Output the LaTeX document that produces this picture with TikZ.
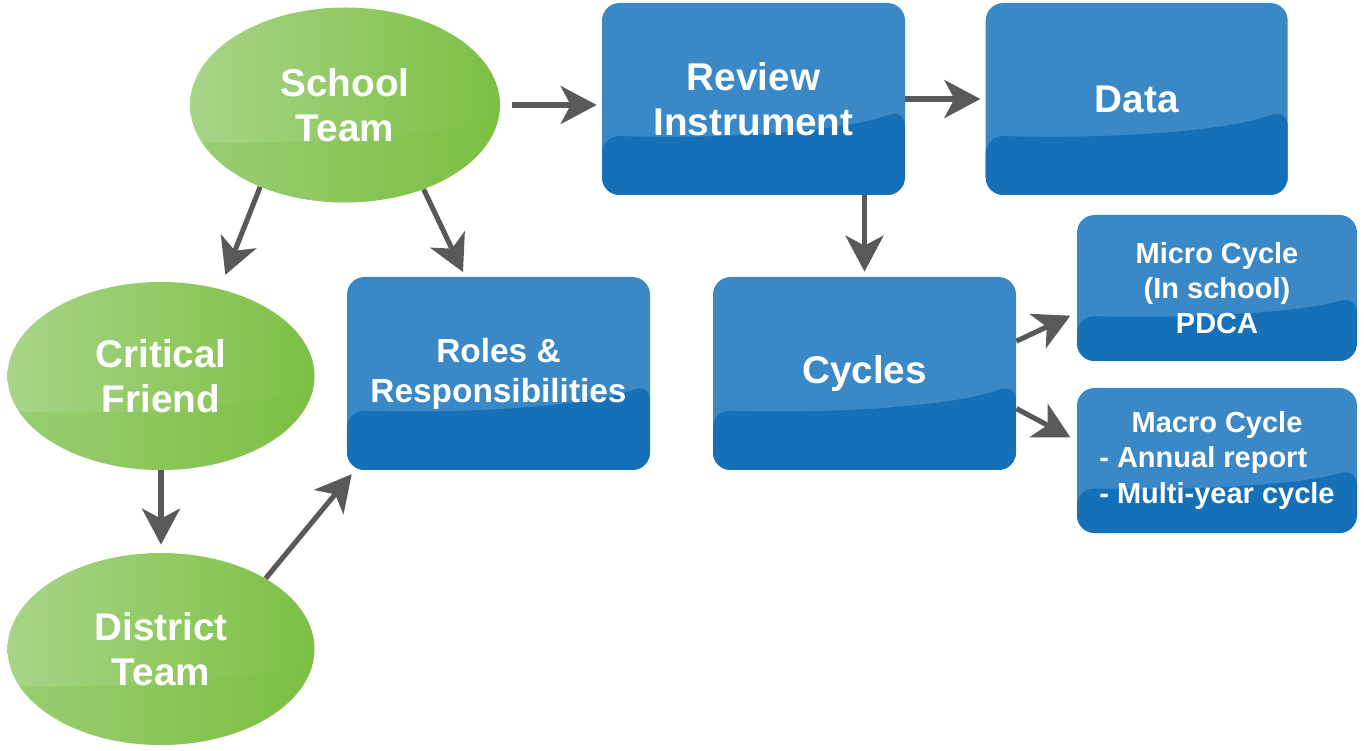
\documentclass[tikz,border=0pt]{standalone}
\usepackage{fontspec}
\setmainfont{Liberation Sans}
\usetikzlibrary{arrows.meta,positioning,calc,shapes.geometric}

\definecolor{boxlight}{HTML}{3A88C6}
\definecolor{boxdark}{HTML}{1670B8}
\definecolor{greenleft}{HTML}{A8D488}
\definecolor{greenright}{HTML}{7CC042}
\definecolor{arrgray}{HTML}{58595B}
\newlength{\macrowd}

\tikzset{
  lowerband/.style={path picture={
    \fill[#1] let \p1=(path picture bounding box.south west),
                  \p2=(path picture bounding box.north east) in
      (\x1,\y1) -- (\x1,{\y1+0.31*(\y2-\y1)})
      .. controls ({\x1+0.40*(\x2-\x1)},{\y1+0.29*(\y2-\y1)})
             and ({\x1+0.80*(\x2-\x1)},{\y1+0.33*(\y2-\y1)})
      .. (\x2,{\y1+0.45*(\y2-\y1)}) -- (\x2,\y1) -- cycle;}},
  bluebox/.style={rectangle, rounded corners=10pt, fill=boxlight,
                  lowerband=boxdark, text=white, align=center,
                  minimum width=6.06cm, minimum height=3.86cm},
  smallbox/.style={bluebox, minimum width=5.6cm, minimum height=2.92cm,
                   font=\bfseries\fontsize{16.5}{20}\selectfont},
  greenell/.style={ellipse, left color=greenleft, right color=greenright,
                   lowerband={greenright, fill opacity=0.3}, text=white,
                   align=center, font=\bfseries\fontsize{22}{25.5}\selectfont},
  big/.style={font=\bfseries\fontsize{22}{25.5}\selectfont},
  arr/.style={draw=arrgray, line width=2.9pt,
              -{Stealth[length=0.72cm, width=0.76cm, inset=0.2cm]}}
}

\begin{document}
\begin{tikzpicture}
\useasboundingbox (0,0) rectangle (27.28,-15.02);

% ellipses
\node[greenell, minimum width=6.2cm, minimum height=3.9cm] (school) at (6.9,-2.1) {School\\Team};
\node[greenell, minimum width=6.14cm, minimum height=3.76cm] (critical) at (3.22,-7.52) {Critical\\Friend};
\node[greenell, minimum width=6.14cm, minimum height=3.84cm] (district) at (3.22,-12.98) {District\\Team};

% boxes
\node[bluebox, big, minimum height=3.84cm] (review) at (15.07,-1.98) {Review\\Instrument};
\node[bluebox, big, minimum width=6.04cm, minimum height=3.84cm] (data) [right=1.6cm of review] {Data};
\node[bluebox, font=\bfseries\fontsize{19}{22.7}\selectfont] (roles) at (9.97,-7.47) {Roles \&\\Responsibilities};
\node[bluebox, big] (cycles) at (17.29,-7.47) {Cycles};
\node[smallbox] (micro) at (24.34,-5.76) {Micro Cycle\\(In school)\\PDCA};
\node[smallbox, minimum height=2.9cm] (macro) at (24.34,-9.21)
  {Macro Cycle\\\settowidth{\macrowd}{- Multi-year cycle}\makebox[\macrowd][l]{- Annual report}\\- Multi-year cycle};

% connectors
\draw[arr, shorten <=0.24cm, shorten >=0.1cm] (school.east) -- (review.west |- school.east);
\draw[arr, shorten >=0.1cm] (review.east) -- (data.west);
\draw[arr, shorten >=0.1cm] (cycles.north |- review.south) -- (cycles.north);
\draw[arr, shorten >=0.3cm] (school.224) -- (critical.56);
\draw[arr, shorten >=0.1cm] (school.313) -- (roles.109);
\draw[arr, shorten >=0.16cm] (critical.south) -- (district.north);
\draw[arr, shorten >=0.1cm] (district.34) -- (roles.214);
\draw[arr, shorten >=0.14cm] (cycles.12) -- (micro.190);
\draw[arr, shorten >=0.14cm] (cycles.347) -- (macro.172);
\end{tikzpicture}
\end{document}
